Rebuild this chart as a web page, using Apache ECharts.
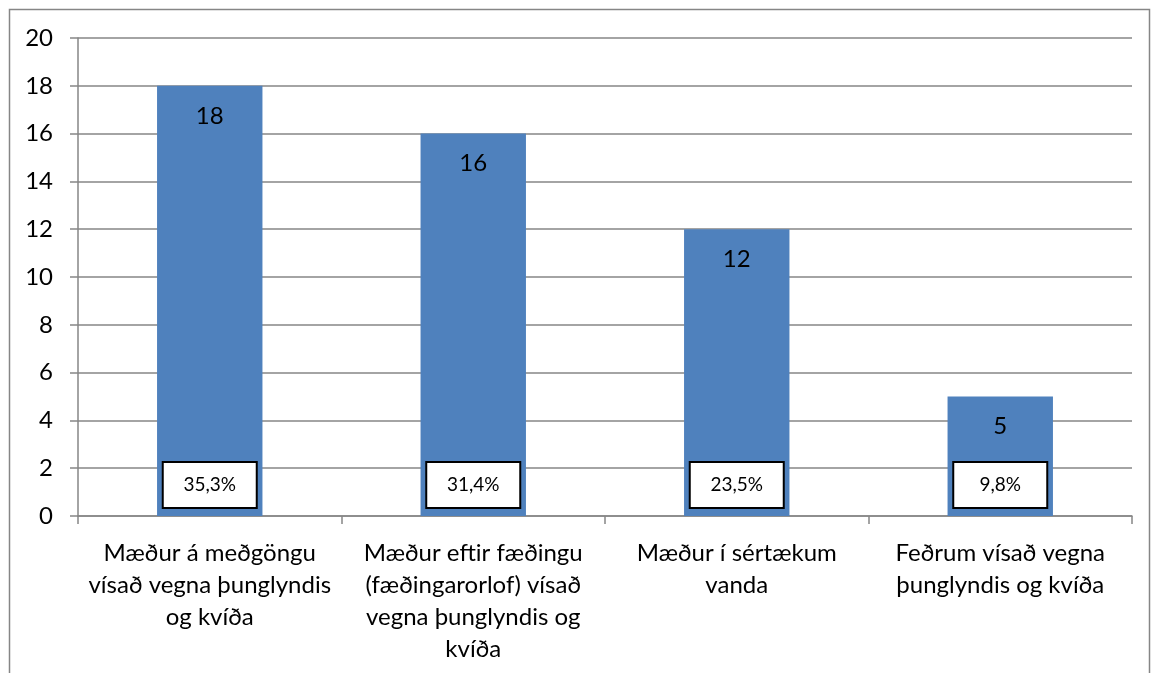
<!DOCTYPE html>
<html>
<head>
<meta charset="utf-8">
<script src="https://cdn.jsdelivr.net/npm/echarts@6/dist/echarts.min.js"></script>
<style>
  html, body { margin: 0; padding: 0; background: #fff; }
  #chart { width: 1154px; height: 673px; }
</style>
</head>
<body>
<div id="chart"></div>
<script>
// categories and values
const categories = [
  'Mæður á meðgöngu\nvísað vegna þunglyndis\nog kvíða',
  'Mæður eftir fæðingu\n(fæðingarorlof) vísað\nvegna þunglyndis og\nkvíða',
  'Mæður í sértækum\nvanda',
  'Feðrum vísað vegna\nþunglyndis og kvíða'
];
const counts = [18, 16, 12, 5];
const shares = ['35,3%', '31,4%', '23,5%', '9,8%'];
const shareBoxLevel = [1.3, 1.3, 1.3, 1.3];

const font = 'Lato, "Open Sans", sans-serif';
const chart = echarts.init(document.getElementById('chart'));

chart.setOption({
  animation: false,
  graphic: [{
    type: 'rect',
    shape: { x: 9.5, y: 9.5, width: 1140, height: 700 },
    style: { fill: 'none', stroke: '#868686', lineWidth: 1.5 },
    silent: true
  }],
  grid: { left: 78, right: 22, top: 38, bottom: 157 },
  xAxis: {
    type: 'category',
    data: categories,
    axisLine: { lineStyle: { color: '#868686', width: 1.5 } },
    axisTick: { show: true, length: 8, lineStyle: { color: '#868686', width: 1.5 } },
    axisLabel: {
      color: '#000', fontFamily: font, fontSize: 24, lineHeight: 32,
      margin: 21, interval: 0, align: 'center'
    }
  },
  yAxis: {
    type: 'value',
    min: 0, max: 20, interval: 2,
    axisLine: { show: true, lineStyle: { color: '#868686', width: 1.5 } },
    axisTick: { show: true, length: 8, lineStyle: { color: '#868686', width: 1.5 } },
    splitLine: { lineStyle: { color: '#868686', width: 1.5 } },
    axisLabel: { color: '#000', fontFamily: font, fontSize: 24, margin: 25 }
  },
  series: [
    {
      type: 'bar',
      data: counts,
      barWidth: '40%',
      itemStyle: { color: '#4F81BD' },
      label: {
        show: true, position: 'insideTop', distance: 18,
        color: '#000', fontFamily: font, fontSize: 24
      }
    },
    {
      type: 'scatter',
      data: shareBoxLevel,
      symbolSize: 1,
      itemStyle: { color: '#fff', opacity: 1 },
      z: 5,
      label: {
        show: true, position: 'inside',
        formatter: p => shares[p.dataIndex],
        color: '#000', fontFamily: font, fontSize: 19,
        backgroundColor: '#fff', borderColor: '#000', borderWidth: 2,
        width: 92, height: 44, align: 'center', verticalAlign: 'middle',
        lineHeight: 44
      }
    }
  ]
});
</script>
</body>
</html>
